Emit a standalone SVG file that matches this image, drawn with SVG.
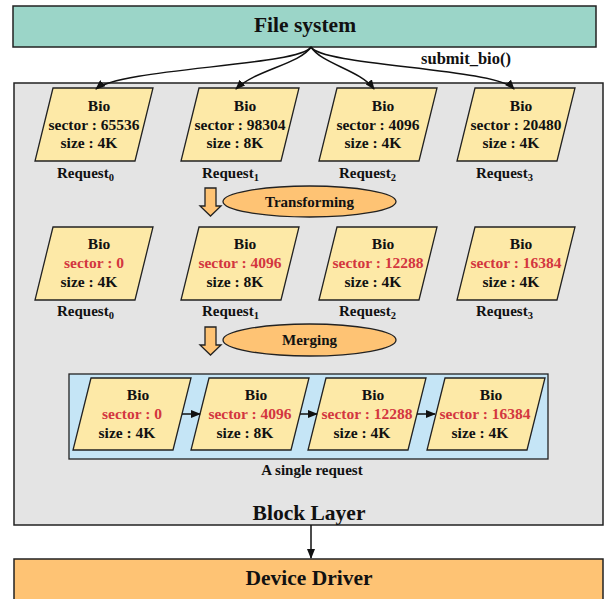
<svg xmlns="http://www.w3.org/2000/svg" xmlns:xlink="http://www.w3.org/1999/xlink" width="604" height="599" viewBox="0 0 604 599">
<style>
text{font-family:"Liberation Serif","Times New Roman",serif;font-weight:bold;fill:#111}
.b{font-size:15.5px;text-anchor:middle}
.r{fill:#d3363f}
.lbl{font-size:15px}
.big{font-size:21.5px;text-anchor:middle}
.para{fill:#fde9a7;stroke:#222;stroke-width:1.3}
.orange{fill:#fec374;stroke:#222;stroke-width:1.3}
.conn{fill:none;stroke:#111;stroke-width:1.5}
</style>
<defs>
<polygon id="para" class="para" points="18,0 118,0 100,73 0,73"/>
<polygon id="para3" class="para" points="18,0 118,0 100,72 0,72"/>
<marker id="ah" markerWidth="10" markerHeight="8" refX="9" refY="4" orient="auto" markerUnits="userSpaceOnUse"><path d="M0,0 L10,4 L0,8 Z" fill="#111"/></marker>
<polygon id="darrow" class="orange" points="5,0 16,0 16,18 21,18 10.5,28 0,18 5,18"/>
</defs>
<g id="filesystem"><rect x="13" y="6" width="583" height="41" fill="#9bd5c8" stroke="#222" stroke-width="1.5"/><text class="big" x="305" y="32">File system</text></g>
<g id="blocklayer"><rect x="14" y="83" width="589" height="442" fill="#e4e4e4" stroke="#222" stroke-width="1.5"/><text class="big" x="309" y="520">Block Layer</text></g>
<g id="devicedriver"><rect x="14" y="559" width="589" height="45" fill="#fec374" stroke="#222" stroke-width="1.5"/><text class="big" x="309" y="585">Device Driver</text></g>
<text x="466" y="64" text-anchor="middle" font-size="16.5">submit_bio()</text>
<g id="row1">
<g id="r1b0"><use xlink:href="#para" x="35" y="88"/><text class="b" x="99" y="111">Bio</text><text class="b" x="94" y="129.5">sector : 65536</text><text class="b" x="89" y="148">size : 4K</text><text class="lbl" x="57" y="178">Request<tspan font-size="10.5" dy="3">0</tspan></text></g>
<g id="r1b1"><use xlink:href="#para" x="181" y="88"/><text class="b" x="245" y="111">Bio</text><text class="b" x="240" y="129.5">sector : 98304</text><text class="b" x="235" y="148">size : 8K</text><text class="lbl" x="202" y="178">Request<tspan font-size="10.5" dy="3">1</tspan></text></g>
<g id="r1b2"><use xlink:href="#para" x="319" y="88"/><text class="b" x="383" y="111">Bio</text><text class="b" x="378" y="129.5">sector : 4096</text><text class="b" x="373" y="148">size : 4K</text><text class="lbl" x="339" y="178">Request<tspan font-size="10.5" dy="3">2</tspan></text></g>
<g id="r1b3"><use xlink:href="#para" x="457" y="88"/><text class="b" x="521" y="111">Bio</text><text class="b" x="516" y="129.5">sector : 20480</text><text class="b" x="511" y="148">size : 4K</text><text class="lbl" x="476" y="178">Request<tspan font-size="10.5" dy="3">3</tspan></text></g>
</g>
<g id="transforming"><use xlink:href="#darrow" x="200" y="188"/><ellipse class="orange" cx="309.5" cy="201.5" rx="86.5" ry="15.5"/><text class="lbl" x="309.5" y="206.5" text-anchor="middle">Transforming</text></g>
<g id="row2">
<g id="r2b0"><use xlink:href="#para" x="35" y="227"/><text class="b" x="99" y="249">Bio</text><text class="b r" x="94" y="268">sector : 0</text><text class="b" x="89" y="286.5">size : 4K</text><text class="lbl" x="57" y="316">Request<tspan font-size="10.5" dy="3">0</tspan></text></g>
<g id="r2b1"><use xlink:href="#para" x="181" y="227"/><text class="b" x="245" y="249">Bio</text><text class="b r" x="240" y="268">sector : 4096</text><text class="b" x="235" y="286.5">size : 8K</text><text class="lbl" x="202" y="316">Request<tspan font-size="10.5" dy="3">1</tspan></text></g>
<g id="r2b2"><use xlink:href="#para" x="319" y="227"/><text class="b" x="383" y="249">Bio</text><text class="b r" x="378" y="268">sector : 12288</text><text class="b" x="373" y="286.5">size : 4K</text><text class="lbl" x="339" y="316">Request<tspan font-size="10.5" dy="3">2</tspan></text></g>
<g id="r2b3"><use xlink:href="#para" x="457" y="227"/><text class="b" x="521" y="249">Bio</text><text class="b r" x="516" y="268">sector : 16384</text><text class="b" x="511" y="286.5">size : 4K</text><text class="lbl" x="476" y="316">Request<tspan font-size="10.5" dy="3">3</tspan></text></g>
</g>
<g id="merging"><use xlink:href="#darrow" x="200" y="327"/><ellipse class="orange" cx="309.5" cy="340" rx="86.5" ry="16"/><text class="lbl" x="309.5" y="345" text-anchor="middle">Merging</text></g>
<g id="singlerequest">
<rect x="69" y="374" width="479" height="85" fill="#c5e5f6" stroke="#222" stroke-width="1.3"/>
<text class="lbl" x="312" y="475" text-anchor="middle">A single request</text>
<g id="r3b0"><use xlink:href="#para3" x="73" y="378"/><text class="b" x="138" y="400">Bio</text><text class="b r" x="132" y="419">sector : 0</text><text class="b" x="127" y="437.5">size : 4K</text></g>
<g id="r3b1"><use xlink:href="#para3" x="191" y="378"/><text class="b" x="256" y="400">Bio</text><text class="b r" x="250" y="419">sector : 4096</text><text class="b" x="245" y="437.5">size : 8K</text></g>
<g id="r3b2"><use xlink:href="#para3" x="308" y="378"/><text class="b" x="373" y="400">Bio</text><text class="b r" x="367" y="419">sector : 12288</text><text class="b" x="362" y="437.5">size : 4K</text></g>
<g id="r3b3"><use xlink:href="#para3" x="427" y="378"/><text class="b" x="491" y="400">Bio</text><text class="b r" x="485" y="419">sector : 16384</text><text class="b" x="480" y="437.5">size : 4K</text></g>
</g>
<g id="connectors">
<path class="conn" marker-end="url(#ah)" d="M311,47 C300,66 120,68 96,89"/>
<path class="conn" marker-end="url(#ah)" d="M311,47 C300,64 255,70 236,89"/>
<path class="conn" marker-end="url(#ah)" d="M311,47 C322,64 360,70 374,89"/>
<path class="conn" marker-end="url(#ah)" d="M311,47 C322,66 495,68 514,89"/>
<path class="conn" marker-end="url(#ah)" d="M182,414 L200,414"/>
<path class="conn" marker-end="url(#ah)" d="M300,414 L317,414"/>
<path class="conn" marker-end="url(#ah)" d="M417,414 L435,414"/>
<path class="conn" marker-end="url(#ah)" d="M311,525 L311,558"/>
</g>
</svg>
